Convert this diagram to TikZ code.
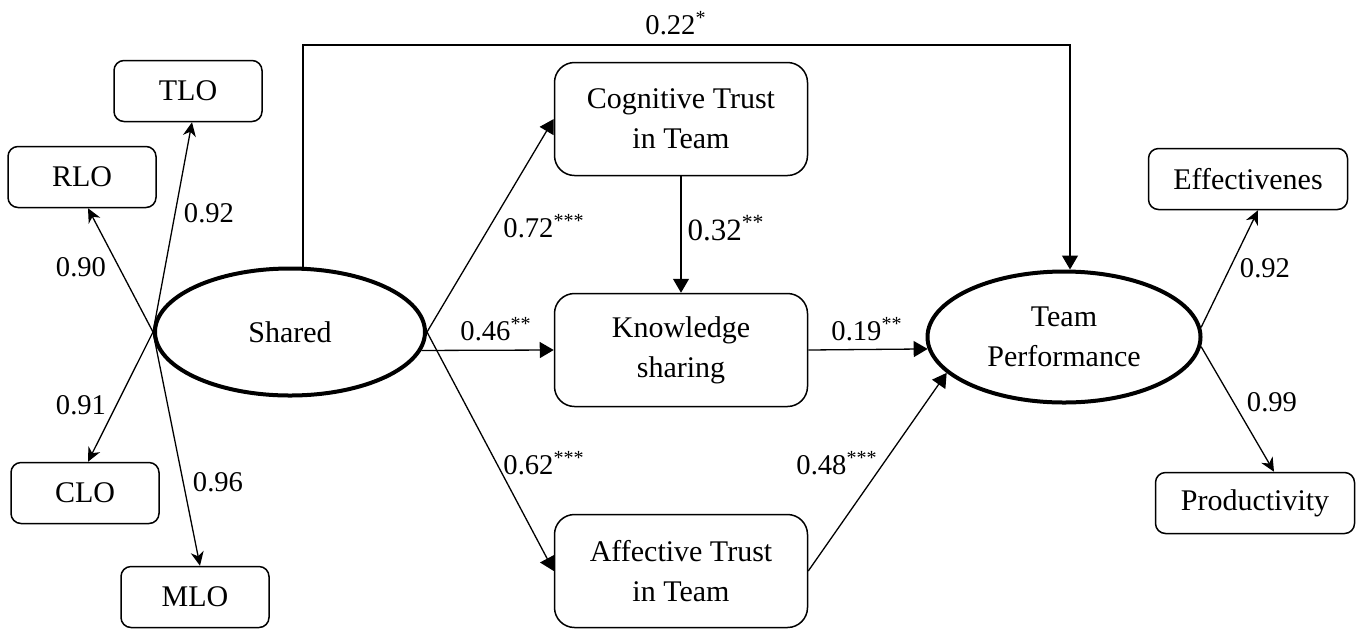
\documentclass[tikz,border=0pt]{standalone}
\usepackage{fontspec}
\setmainfont{Liberation Serif}
\usetikzlibrary{arrows.meta,shapes.geometric}
\begin{document}
\begin{tikzpicture}[x=0.5pt,y=-0.5pt,
  font=\fontsize{15}{20}\selectfont,
  box/.style={draw,line width=0.75pt,rounded corners=5pt,inner sep=0pt,align=center},
  smallbox/.style={box,minimum width=74pt,minimum height=30.5pt},
  midbox/.style={box,rounded corners=10pt,minimum width=126.5pt,minimum height=56.5pt},
  lat/.style={draw,ellipse,line width=2pt,inner sep=0pt,align=center},
  ld/.style={-{Stealth[length=7pt,width=6.5pt,inset=2.2pt]},line width=0.65pt},
  pth/.style={-{Triangle[length=7pt,width=8pt]},line width=0.65pt},
  lbl/.style={inner sep=0pt,font=\fontsize{14.3}{16}\selectfont},
  bigl/.style={inner sep=0pt,font=\fontsize{15.5}{18}\selectfont}
]
\useasboundingbox (0,0) rectangle (1359,628);

\node[smallbox] (tlo) at (188,91) {TLO};
\node[smallbox] (rlo) at (82,177) {RLO};
\node[smallbox] (clo) at (85,493) {CLO};
\node[smallbox] (mlo) at (195,597) {MLO};
\node[lat,minimum width=135pt,minimum height=63.5pt] (sh) at (290,332) {Shared};
\node[midbox] (cog) at (681,119) {Cognitive Trust\\in Team};
\node[midbox] (kn) at (681,350) {Knowledge\\sharing};
\node[midbox] (aff) at (681,571) {Affective Trust\\in Team};
\node[lat,minimum width=136.5pt,minimum height=65.5pt] (tp) at (1064,337) {Team\\Performance};
\node[smallbox,minimum width=99.5pt] (eff) at (1248,179) {Effectivenes};
\node[smallbox,minimum width=99.5pt] (prod) at (1255,503) {Productivity};

\coordinate (top) at (680,45);

\draw[ld] (sh.west) -- ([xshift=3pt]rlo.south);
\draw[ld] (sh.west) -- ([xshift=2pt]tlo.south);
\draw[ld] (sh.west) -- ([xshift=1.5pt]clo.north);
\draw[ld] (sh.west) -- ([xshift=2.5pt]mlo.north);

\draw[pth] ([xshift=6.5pt]sh.north) |- (top) -| ([xshift=3pt]tp.north);
\draw[pth] (sh.east) -- (cog.west);
\draw[pth] (sh.-8) -- (kn.west);
\draw[pth] (sh.east) -- (aff.west);
\draw[pth] (cog.south) -- (kn.north);
\draw[pth] (kn.east) -- (tp.185);
\draw[pth] (aff.east) -- (tp.197);
\draw[ld] (tp.4) -- ([xshift=5pt]eff.south);
\draw[ld] (tp.-4) -- ([xshift=9.5pt]prod.north);

\node[lbl] (l1) at (81,267) {0.90};
\node[lbl] (l2) at (209,213) {0.92};
\node[lbl] (l3) at (81,405) {0.91};
\node[lbl] (l4) at (218,482) {0.96};
\node[lbl] (l5) at (676,23) {0.22\textsuperscript{*}};
\node[lbl] (l6) at (544,226) {0.72\textsuperscript{***}};
\node[bigl] (l7) at (726,228) {0.32\textsuperscript{**}};
\node[lbl] (l8) at (496,329) {0.46\textsuperscript{**}};
\node[lbl] (l9) at (867,329) {0.19\textsuperscript{**}};
\node[lbl] (l10) at (544,463) {0.62\textsuperscript{***}};
\node[lbl] (l11) at (837,463) {0.48\textsuperscript{***}};
\node[lbl] (l12) at (1265,268) {0.92};
\node[lbl] (l13) at (1272,402) {0.99};
\end{tikzpicture}
\end{document}
